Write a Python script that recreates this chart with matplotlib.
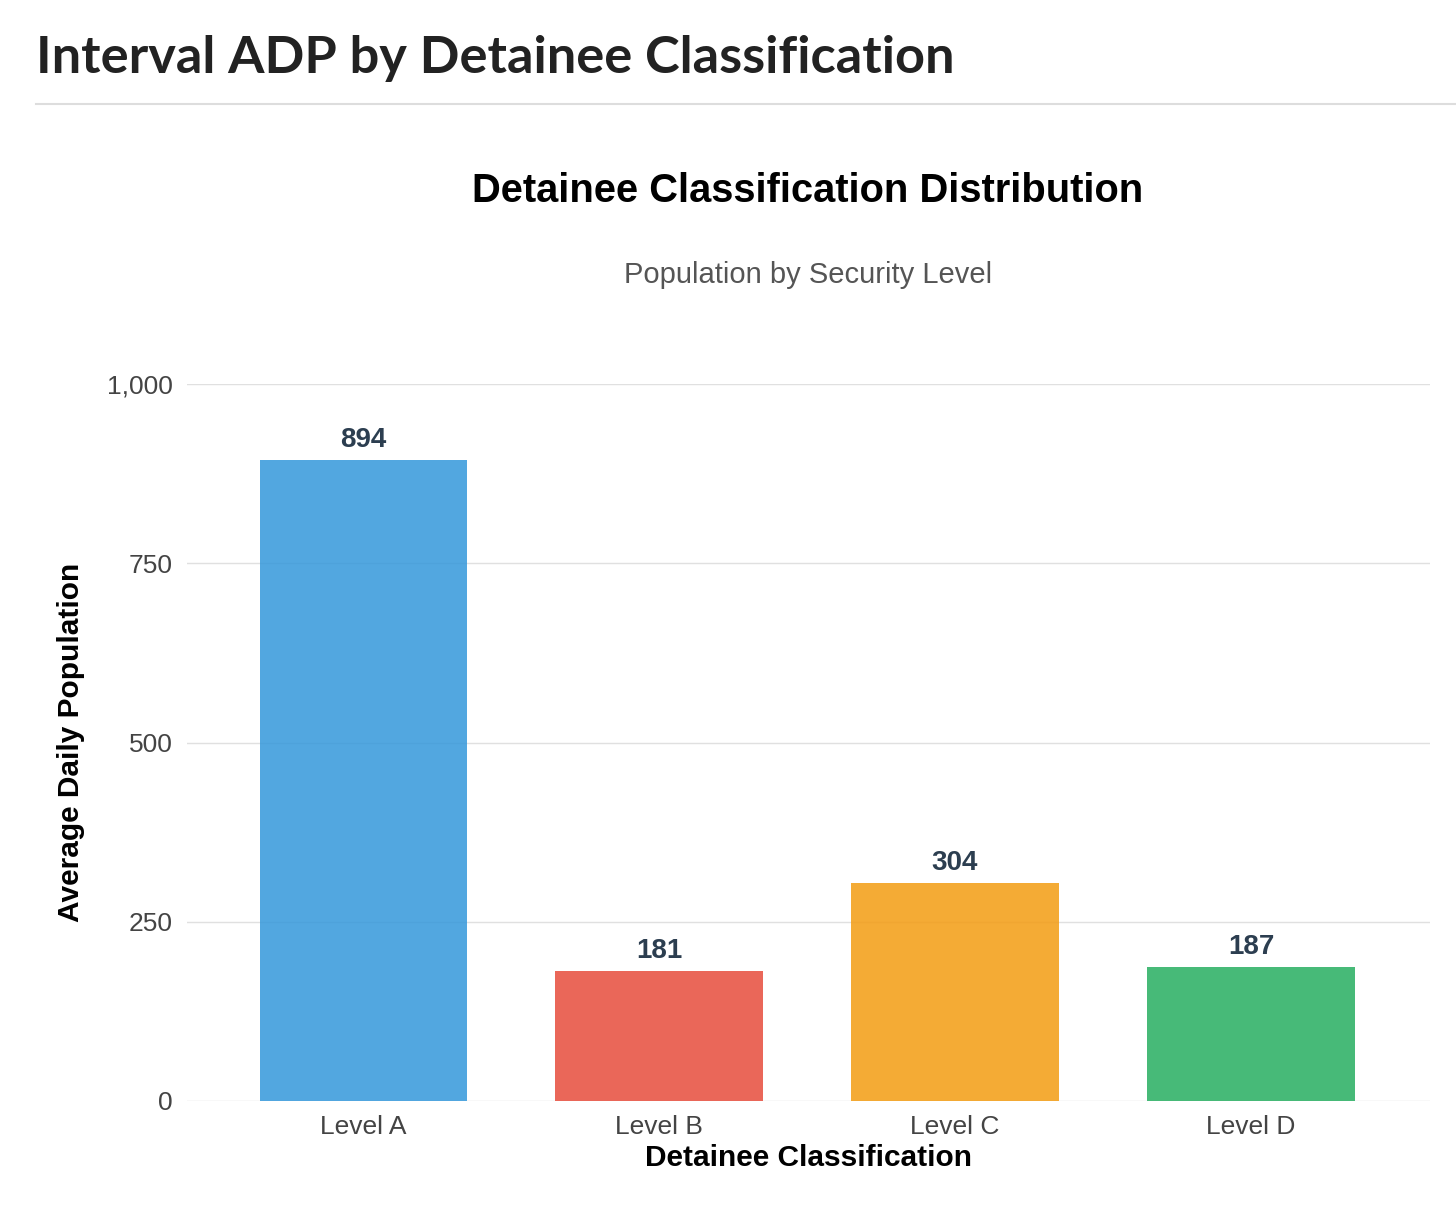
import matplotlib
matplotlib.use('Agg')
import matplotlib.pyplot as plt
from matplotlib.lines import Line2D

categories = ['Level A', 'Level B', 'Level C', 'Level D']
values = [894, 181, 304, 187]
colors = ['#3498db', '#e74c3c', '#f39c12', '#27ae60']
yticks = [0, 250, 500, 750, 1000]

plt.rcParams['font.family'] = ['Liberation Sans', 'DejaVu Sans']

W, H = 1456, 1214
fig = plt.figure(figsize=(W / 100, H / 100), dpi=100)

fig.text(36 / W, 1 - 58 / H, 'Interval ADP by Detainee Classification',
         family='Lato', fontweight='bold', fontsize=37.7, color='#222222',
         ha='left', va='center')
fig.add_artist(Line2D([36 / W, 1], [1 - 104 / H, 1 - 104 / H],
                      color='#dddddd', lw=1.5, transform=fig.transFigure))

fig.text(808 / W, 1 - 191 / H, 'Detainee Classification Distribution',
         fontsize=28.7, fontweight='bold', color='black', ha='center', va='center')
fig.text(808 / W, 1 - 275 / H, 'Population by Security Level',
         fontsize=21, color='#555555', ha='center', va='center')

ax = fig.add_axes([187 / W, 1 - 1101 / H, (1430 - 187) / W, (1101 - 384) / H])
x = range(len(categories))
ax.bar(x, values, width=0.7, color=colors, alpha=0.85, zorder=2)
for i, v in enumerate(values):
    ax.text(i, v + 10, str(v), ha='center', va='bottom', fontsize=20,
            fontweight='bold', color='#2c3e50')

ax.set_xlim(-0.595, 3.605)
ax.set_ylim(0, 1000)
ax.set_yticks(yticks)
ax.set_yticklabels([f'{t:,}' for t in yticks])
ax.set_xticks(list(x))
ax.set_xticklabels(categories)
ax.tick_params(length=0, labelsize=19, labelcolor='#444444', pad=10)
ax.grid(axis='y', color='#e0e0e0', lw=1, zorder=0)
for s in ax.spines.values():
    s.set_visible(False)
ax.set_xlabel('Detainee Classification', fontsize=21.5, fontweight='bold', labelpad=4)
ax.set_ylabel('Average Daily Population', fontsize=21.5, fontweight='bold', labelpad=16)

fig.savefig('out.png', dpi=100, facecolor='white')
